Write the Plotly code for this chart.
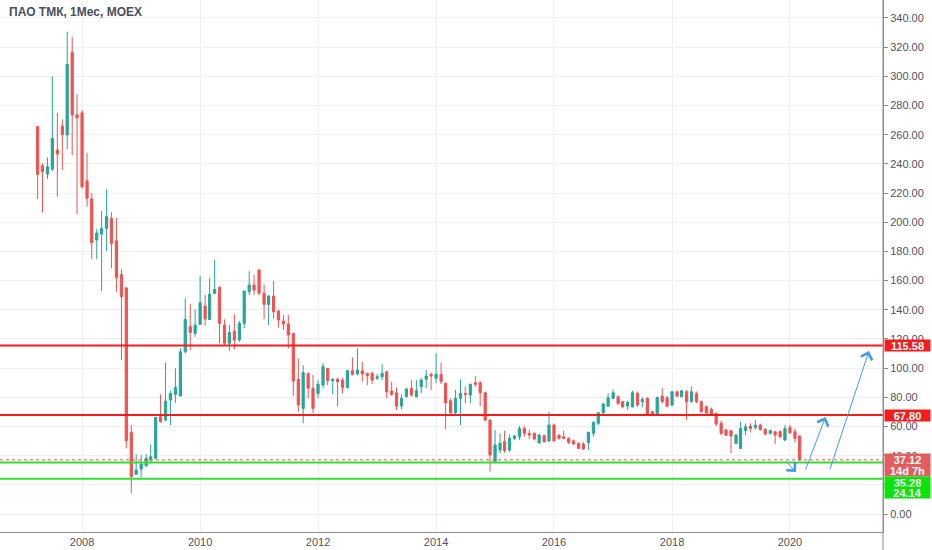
import pandas as pd
import plotly.graph_objs as go

# monthly candles, ПАО ТМК (MOEX), from Apr 2007 to Mar 2020
first_month = "2007-04-01"

opens = [
    265.5, 238.7, 233, 236.5, 249.5, 266, 259.8, 316.4, 273.5,
    275, 228.4, 216, 187.8, 191.9, 195.8, 202.6, 187.3, 164, 155, 56, 27.2,
    30.8, 33.1, 37, 38.2, 66.7, 64.4, 78.1, 82, 80.9, 111.2, 128.4, 123.8,
    130, 142.6, 133.4, 151.3, 155.4, 129.5, 117, 125.4, 119.3, 130.7, 152.4, 157,
    167.2, 151.3, 143.7, 149.4, 139.1, 132.3, 130.2, 123.8, 92.3, 72.4, 96.4, 86.2,
    82.7, 88.4, 99.9, 91.4, 92.5, 91.8, 86.8, 98.2, 96, 98.2, 96.4, 96.4,
    93, 94.1, 97.5, 84.3, 83.1, 74, 80.4, 86.2, 80.4, 87.2, 92.3, 95.7,
    93, 95.7, 89.6, 77.7, 69.4, 79.3, 82.6, 81.6, 90, 90, 83.1, 64.4,
    35.8, 43.9, 49.6, 43.9, 51.9, 53, 58.7, 55.3, 55.3, 48.9, 53.7, 50,
    61, 53.9, 53, 51.9, 50.2, 48.5, 48, 48.9, 55.3, 62.2, 69.4, 74,
    79.3, 80.4, 77, 74, 73.5, 82.7, 77, 79.3, 70.1, 68.5, 80.9, 79.7,
    74.7, 83.8, 80.4, 83.8, 77, 82.7, 77, 73.5, 71.8, 69, 62.2, 57.6,
    57.1, 48.5, 45, 57.1, 60.3, 59.4, 61, 58, 55.3, 56.4, 56.4, 50.7,
    59.4, 56.4, 53.5,
]
highs = [
    266, 240.4, 244.5, 300, 275, 270.5, 330.6, 327, 287.7,
    277, 247.6, 220, 195.3, 207.7, 222.5, 206.8, 203, 168, 155.5, 61, 41,
    40.4, 41, 47.8, 66.5, 82, 104, 84.5, 99.9, 113.6, 147.8, 143.9, 140.3,
    163.3, 150.1, 162, 174.1, 156, 133.4, 129.5, 136.9, 132.3, 153, 166.5, 163.8,
    168, 157.4, 150, 159.9, 140, 136.4, 136.4, 124, 106.7, 102.1, 97, 95.3,
    91.8, 103.3, 100, 93, 93, 93.4, 99, 107.4, 113.6, 104.4, 97, 97.5,
    96, 102.8, 98, 90.7, 86.8, 82, 86.5, 91.8, 91.8, 93, 98.7, 97,
    110.1, 103.7, 90, 79.3, 85, 92.3, 87.3, 89.5, 94.6, 91, 84, 65,
    57.6, 55.3, 57.1, 54.6, 54.3, 60.3, 60.3, 58, 56, 55, 54.5, 70.1,
    62, 55, 57.1, 52.5, 51, 49, 49.3, 56.5, 63.7, 70, 76.3, 82.7,
    85.5, 81.5, 77.5, 77.5, 84.5, 84, 80, 80, 70.5, 80.5, 86.2, 81,
    84.5, 84.5, 85, 85, 87.3, 84, 78, 74.5, 73, 69.5, 64, 58.5,
    57.5, 55, 63.3, 62, 62, 64.4, 62, 59, 58, 57, 57.5, 61,
    61, 58.5, 54,
]
lows = [
    216, 206.5, 229.6, 235, 217.5, 235.8, 250, 246, 205.4,
    223, 210.6, 174.6, 174.6, 152.8, 180.3, 168.4, 152.4, 105.5, 45, 14.2, 26.7,
    25.2, 32.4, 34.7, 38, 62.6, 64, 61, 76.3, 80.9, 110.1, 112.4, 121.5,
    130, 129.1, 133, 150.6, 117, 116, 111.9, 112.9, 118, 127.3, 150.1, 150.1,
    150, 133.4, 129.5, 134.1, 127.7, 126.1, 113.6, 80.9, 70.1, 62.2, 79.3, 69,
    79.3, 86.2, 88.4, 82, 74, 82.7, 86, 95, 95.3, 90.7, 88.4, 89.1,
    92, 91.8, 79.3, 80.9, 71.3, 71.8, 80, 80.4, 80, 82.7, 86.2, 85,
    89.6, 89.1, 58, 67.2, 67.9, 61, 75.9, 75.9, 87.3, 74, 63.7, 29,
    34.7, 41.6, 42, 42.7, 50.7, 50.7, 53, 51.2, 50.5, 48, 48.8, 49.5,
    49.5, 51, 51.2, 48, 47.3, 44.6, 44.3, 43.9, 53, 61, 67.9, 73.5,
    78.8, 74.7, 72.4, 71.3, 73, 73.5, 73.1, 67.9, 67.2, 68, 76, 73,
    74, 80, 80, 64.4, 76.5, 76, 69.5, 68.5, 67.5, 60.3, 54, 53.5,
    41.6, 48, 44.5, 54.1, 56, 58, 57, 54, 54.5, 48, 52, 50,
    55, 48.9, 36.5,
]
closes = [
    232.8, 234.6, 238, 257.5, 246.7, 260.2, 308.2, 273.5, 271.6,
    224.3, 216.4, 186, 192.6, 195.8, 203.8, 185.5, 162.2, 149, 50.2, 25.6, 30.2,
    34.3, 38.2, 39.3, 66.3, 63.3, 77.4, 82.7, 86.8, 111.2, 133.4, 124.5, 129.5,
    144.8, 133.7, 150.6, 154, 130.7, 117, 124.5, 119.3, 130.7, 152.8, 157, 153.5,
    151.3, 143.7, 149.4, 138.7, 133, 130.2, 122.7, 91.2, 74.7, 96.8, 86.2, 72.4,
    88.9, 101, 91.4, 92.5, 90.7, 86.8, 98.2, 95.7, 98.7, 96, 94.8, 91.8,
    94.1, 96.4, 83.8, 82, 74, 79.3, 85.7, 81.6, 84.5, 91.8, 94.6, 94.6,
    95.7, 90.7, 76.3, 69.4, 79.3, 82.7, 82, 88.9, 88.9, 83.1, 64.4, 40.4,
    47.3, 48.5, 43.4, 51.9, 53.5, 58.7, 55.3, 54.1, 51.4, 54.1, 49.6, 61,
    50.2, 51.9, 51.9, 49.1, 48, 45, 44.6, 56, 62.8, 69.4, 75.4, 79.7,
    83.1, 75.9, 73.5, 76.6, 83.1, 74.7, 78.6, 68.5, 68.5, 80, 77, 74,
    83.8, 80.9, 84.5, 77, 83.8, 77, 70.1, 69.4, 68.5, 61.7, 55.3, 54.1,
    53.5, 54.1, 58.7, 59.8, 58.7, 61, 58, 54.8, 57.1, 54.1, 53, 58.7,
    55.7, 51.9, 37.12,
]

# horizontal levels drawn on the chart
red_levels = [115.58, 67.80]
green_levels = [35.28, 24.14]
last_price = closes[-1]
countdown = "14d 7h"

# blue arrows: (start date, start price, end date, end price)
arrows = [
    ("2019-12-01", 37.0, "2020-02-07", 28.8),
    ("2020-04-03", 29.5, "2020-08-08", 66.5),
    ("2020-09-01", 29.5, "2021-05-04", 111.7),
]

months = pd.date_range(first_month, periods=len(opens), freq="MS")

UP = "#26a69a"
DOWN = "#ef5350"
RED = "#f21c1c"
GREEN_LINE = "#33dd33"
GREEN_BOX = "#0be30b"
AXIS = "#50535e"
GRID = "#eef0f4"
FONT = "Liberation Sans"

fig = go.Figure()
fig.add_trace(go.Candlestick(
    x=months,
    open=opens,
    high=highs,
    low=lows,
    close=closes,
    increasing=dict(line=dict(color=UP, width=1), fillcolor=UP),
    decreasing=dict(line=dict(color=DOWN, width=1), fillcolor=DOWN),
    showlegend=False,
))

shapes = []
for lv in red_levels:
    shapes.append(dict(type="line", xref="paper", x0=0, x1=1, yref="y", y0=lv, y1=lv,
                       line=dict(color=RED, width=2), layer="above"))
for lv in green_levels:
    shapes.append(dict(type="line", xref="paper", x0=0, x1=1, yref="y", y0=lv, y1=lv,
                       line=dict(color=GREEN_LINE, width=2), layer="above"))
shapes.append(dict(type="line", xref="paper", x0=0, x1=1, yref="y", y0=last_price, y1=last_price,
                   line=dict(color=DOWN, width=1, dash="dot"), layer="above"))
# separator running down past the date scale
shapes.append(dict(type="line", xref="paper", x0=1, x1=1, yref="paper", y0=-0.1, y1=1,
                   line=dict(color="#8a8d93", width=1)))

annotations = [dict(
    text="<b>ПАО ТМК, 1Мес, MOEX</b>", xref="paper", yref="paper", x=0, y=1,
    xanchor="left", yanchor="top", xshift=7, yshift=-3, showarrow=False,
    font=dict(family=FONT, size=12, color="#4a4e5a"),
)]

def price_label(value, text, color, yshift=0):
    return dict(
        text=text, xref="paper", x=1, xanchor="left", xshift=1,
        yref="y", y=value, yanchor="middle", yshift=yshift,
        showarrow=False, bgcolor=color, borderpad=0, width=45, height=11,
        font=dict(family=FONT, size=11, color="white"),
    )

for lv in red_levels:
    annotations.append(price_label(lv, "<b>%.2f</b>" % lv, RED))
annotations.append(price_label(last_price, "<b>%.2f</b>" % last_price, "#e35d5d"))
annotations.append(price_label(last_price, "<b>%s</b>" % countdown, "#e35d5d", yshift=-11))
annotations.append(price_label(green_levels[0], "<b>%.2f</b>" % green_levels[0], GREEN_BOX, yshift=-20))
annotations.append(price_label(green_levels[1], "<b>%.2f</b>" % green_levels[1], GREEN_BOX, yshift=-14))

for x0, y0, x1, y1 in arrows:
    annotations.append(dict(
        x=x1, y=y1, ax=x0, ay=y0, xref="x", yref="y", axref="x", ayref="y",
        text="", showarrow=True, arrowhead=4, arrowsize=2.3, arrowwidth=1,
        arrowcolor="#3d9be9",
    ))

fig.update_layout(
    width=932, height=550,
    margin=dict(l=0, r=49, t=0, b=18),
    paper_bgcolor="white", plot_bgcolor="white",
    shapes=shapes, annotations=annotations,
    font=dict(family=FONT, size=11, color=AXIS),
)
fig.update_xaxes(
    type="date", range=["2006-08-11", "2021-07-30"],
    tick0="2008-01-01", dtick="M24", tickformat="%Y",
    showgrid=True, gridcolor=GRID, zeroline=False,
    showline=True, linecolor="#8a8d93", linewidth=1,
    rangeslider=dict(visible=False), ticks="",
)
fig.update_yaxes(
    side="right", range=[-12.3, 352.3], dtick=20, tick0=0, tickformat=".2f",
    showgrid=True, gridcolor=GRID, zeroline=False,
    showline=True, linecolor="#8a8d93", linewidth=1,
    ticks="outside", ticklen=4, tickcolor="#8a8d93",
)

# the page's default body margin would push the chart 8px off the window
fig.write_html(
    "out.html",
    config={"displayModeBar": False},
    post_script="document.body.style.margin='0';",
)
